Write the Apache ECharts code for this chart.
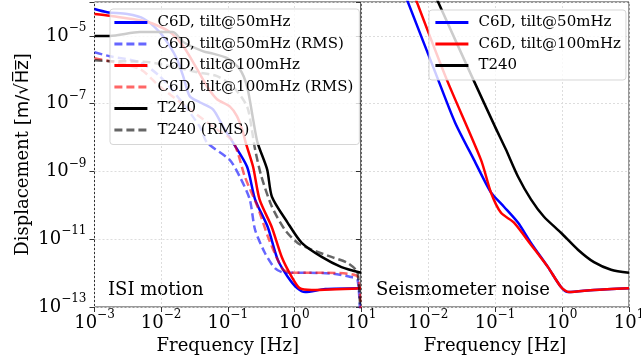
<!DOCTYPE html>
<html><head><meta charset="utf-8">
<script src="https://cdn.jsdelivr.net/npm/echarts@6/dist/echarts.min.js"></script>
<style>html,body{margin:0;padding:0;background:#fff}#c{width:641px;height:362px}</style>
</head><body><div id="c"></div>
<script>
// ---------- Left panel: ISI motion ----------
const c6d50Freq = [0.001, 0.00155, 0.0031, 0.0055, 0.0095, 0.0135, 0.0174, 0.0214, 0.0269, 0.038, 0.060, 0.085, 0.120, 0.195, 0.257, 0.398, 0.562, 0.794, 1.10, 1.45, 2.9, 10];
const c6d50Asd  = [6.2e-5, 5.0e-5, 4.4e-5, 3.2e-5, 1.3e-5, 5.0e-6, 2.0e-6, 6.5e-7, 1.66e-7, 1.1e-7, 6.8e-8, 2.1e-8, 7.1e-9, 1.38e-9, 1.5e-10, 2.3e-11, 2.5e-12, 7.8e-13, 3.6e-13, 2.75e-13, 3.4e-13, 3.6e-13];

const c6d50RmsFreq = [0.001, 0.0017, 0.0048, 0.0095, 0.019, 0.038, 0.049, 0.107, 0.151, 0.214, 0.257, 0.36, 0.51, 0.72, 1.58, 3.8, 6.8, 8.9, 10];
const c6d50Rms     = [3.3e-6, 2.5e-6, 1.66e-6, 6.5e-7, 1.35e-7, 2.1e-8, 7.1e-9, 2.2e-9, 7.1e-10, 1.5e-10, 1.9e-11, 4.0e-12, 1.4e-12, 1.02e-12, 1.02e-12, 9.6e-13, 7.8e-13, 6.3e-13, 1e-14];

const c6d100Freq = [0.001, 0.0017, 0.0062, 0.0135, 0.0214, 0.0347, 0.049, 0.069, 0.107, 0.138, 0.170, 0.186, 0.24, 0.30, 0.457, 0.646, 0.912, 1.20, 1.82, 10];
const c6d100Asd  = [4.4e-5, 3.9e-5, 2.6e-5, 1.3e-5, 5.0e-6, 1.05e-6, 3.2e-7, 1.35e-7, 8.3e-8, 4.2e-8, 1.4e-8, 7.1e-9, 1.38e-9, 1.5e-10, 2.3e-11, 3.0e-12, 7.8e-13, 3.6e-13, 3.2e-13, 3.6e-13];

const c6d100RmsFreq = [0.001, 0.0048, 0.0095, 0.027, 0.069, 0.115, 0.141, 0.18, 0.28, 0.40, 0.56, 0.68, 0.91, 2.9, 8.9, 10];
const c6d100Rms     = [2.2e-6, 1.05e-6, 3.2e-7, 6.8e-8, 1.74e-8, 8.7e-9, 3.6e-9, 7.1e-10, 9.1e-11, 1.2e-11, 2.5e-12, 1.26e-12, 1.02e-12, 1.02e-12, 7.8e-13, 1e-14];

const t240Freq = [0.001, 0.0017, 0.0048, 0.015, 0.0214, 0.043, 0.060, 0.098, 0.151, 0.195, 0.24, 0.28, 0.39, 0.46, 0.79, 1.29, 2.57, 5.1, 10];
const t240Asd  = [1.0e-5, 1.0e-5, 1.3e-5, 1.3e-5, 6.6e-6, 3.5e-6, 3.0e-6, 2.2e-6, 1.05e-6, 3.2e-7, 3.5e-8, 7.1e-9, 1.15e-9, 1.8e-10, 3.1e-11, 7.8e-12, 3.0e-12, 1.5e-12, 1.02e-12];

const t240RmsFreq = [0.001, 0.0017, 0.0068, 0.0347, 0.069, 0.12, 0.195, 0.23, 0.257, 0.32, 0.46, 0.72, 1.12, 1.82, 3.6, 6.3, 8.9, 10];
const t240Rms     = [1.9e-6, 1.8e-6, 1.66e-6, 8.5e-7, 6.5e-7, 3.2e-7, 8.3e-8, 1.7e-8, 4.5e-9, 7.1e-10, 9.1e-11, 1.9e-11, 7.8e-12, 4.9e-12, 3.0e-12, 2.0e-12, 1.02e-12, 1e-14];

// ---------- Right panel: seismometer noise ----------
const noise50Freq = [0.00481, 0.0141, 0.0253, 0.0486, 0.087, 0.136, 0.220, 0.344, 0.618, 0.966, 1.23, 3.0, 10];
const noise50Asd  = [1.23e-4, 5.2e-7, 2.8e-8, 2.2e-9, 2.4e-10, 9.1e-11, 3.1e-11, 7.8e-12, 1.5e-12, 3.9e-13, 2.75e-13, 3.2e-13, 3.6e-13];

const noise100Freq = [0.00655, 0.019, 0.0618, 0.087, 0.123, 0.192, 0.344, 0.618, 0.966, 1.27, 3.0, 10];
const noise100Asd  = [1.23e-4, 5.2e-7, 2.2e-9, 2.4e-10, 6.0e-11, 3.1e-11, 6.9e-12, 1.5e-12, 3.9e-13, 2.75e-13, 3.2e-13, 3.6e-13];

const noiseT240Freq = [0.0135, 0.0449, 0.1, 0.145, 0.22, 0.344, 0.538, 0.966, 1.73, 3.0, 5.4, 10];
const noiseT240Asd  = [1.23e-4, 6.5e-7, 2.1e-8, 4.5e-9, 7.1e-10, 1.5e-10, 4.6e-11, 1.55e-11, 4.9e-12, 2.1e-12, 1.26e-12, 1.02e-12];

const names = ['C6D, tilt@50mHz', 'C6D, tilt@50mHz (RMS)', 'C6D, tilt@100mHz', 'C6D, tilt@100mHz (RMS)', 'T240', 'T240 (RMS)'];
const panelTitles = ['ISI motion', 'Seismometer noise'];
const xTitle = 'Frequency [Hz]';

// ---------- chart ----------
const SERIF = 'DejaVu Serif';
const pairs = (f, v) => f.map((x, i) => [x, v[i]]);
function line(name, f, v, color, dashed, idx) {
  return {
    type: 'line', name, xAxisIndex: idx, yAxisIndex: idx, data: pairs(f, v),
    showSymbol: false, symbol: 'none', smooth: 0.25, clip: true,
    lineStyle: { color, width: 2.5, type: dashed ? [8, 4] : 'solid', cap: 'butt' },
    itemStyle: { color }, emphasis: { disabled: true }, animation: false
  };
}
const BLUE = '#0000ff', RED = '#ff0000', BLACK = '#000000';
const BLUE_A = 'rgba(0,0,255,0.6)', RED_A = 'rgba(255,0,0,0.6)', BLACK_A = 'rgba(0,0,0,0.6)';

function expStr(v) { const e = Math.round(Math.log10(v)); return e < 0 ? '\u2212' + (-e) : String(e); }
const tickRich = {
  b: { fontSize: 18, lineHeight: 28, fontFamily: SERIF, color: '#000' },
  s: { fontSize: 12, lineHeight: 12, verticalAlign: 'top', fontFamily: SERIF, color: '#000' }
};
const xFmt = v => '{b|10}{s|' + expStr(v) + '}';
const yFmt = v => { const e = Math.round(Math.log10(v)); return (Math.abs(e) % 2 === 1) ? '{b|10}{s|' + expStr(v) + '}' : ''; };

const splitLine = { show: true, lineStyle: { color: '#dddddd', width: 1, type: [2, 2] } };
const tick = { show: true, length: 5, lineStyle: { color: '#333', width: 1 } };

function xAxis(idx, hideMin) {
  return {
    type: 'log', logBase: 10, gridIndex: idx, min: 1e-3, max: 10,
    axisLine: { show: false }, axisTick: tick, splitLine,
    axisLabel: { formatter: xFmt, rich: tickRich, margin: 2, showMinLabel: !hideMin, hideOverlap: false },
    name: xTitle, nameLocation: 'middle', nameGap: 27,
    nameTextStyle: { fontFamily: SERIF, fontSize: 18, color: '#000' }
  };
}
function yAxis(idx) {
  const a = {
    type: 'log', logBase: 10, gridIndex: idx, min: 1e-13, max: 1e-4, interval: 2,
    axisLine: { show: false }, axisTick: tick, splitLine,
    axisLabel: { show: idx === 0, formatter: yFmt, rich: tickRich, margin: 8 }
  };
  if (idx === 0) {
    a.name = '{a|Displacement [}{m|m/\u221AH\u0305z\u0305}{a|]}';
    a.nameLocation = 'middle';
    a.nameGap = 62;
    a.nameTextStyle = { fontSize: 18, fontFamily: SERIF, color: '#000',
      rich: { a: { fontSize: 18, fontFamily: SERIF, color: '#000' }, m: { fontSize: 18, fontFamily: 'DejaVu Sans', color: '#000' } } };
  }
  return a;
}
const legendBase = {
  orient: 'vertical', itemWidth: 33, itemHeight: 14, itemGap: 6.5,
  backgroundColor: 'rgba(255,255,255,0.8)', borderColor: 'rgba(204,204,204,0.8)', borderWidth: 1, borderRadius: 3,
  itemStyle: { opacity: 0, borderWidth: 0 },
  lineStyle: { width: 2.8 },
  textStyle: { fontFamily: SERIF, fontSize: 15, color: '#000', lineHeight: 15, padding: [0, 0, 0, 5] },
  selectedMode: false
};

const chart = echarts.init(document.getElementById('c'), null, { renderer: 'canvas' });
chart.setOption({
  animation: false,
  backgroundColor: '#fff',
  grid: [
    { left: 94.5, top: 2, width: 266.5, height: 305, show: true, borderColor: '#333', borderWidth: 1, backgroundColor: 'transparent', outerBoundsMode: 'none' },
    { left: 361, top: 2, width: 268, height: 305, show: true, borderColor: '#333', borderWidth: 1, backgroundColor: 'transparent', outerBoundsMode: 'none' }
  ],
  xAxis: [xAxis(0, false), xAxis(1, true)],
  yAxis: [yAxis(0), yAxis(1)],
  legend: [
    Object.assign({}, legendBase, { left: 110, top: 9, padding: [6, 6, 7, 3], data: names }),
    Object.assign({}, legendBase, { left: 429, top: 10, padding: [5, 5, 7, 5], data: [names[0], names[2], names[4]] })
  ],
  graphic: [
    { type: 'text', left: 108, top: 281, style: { text: panelTitles[0], fontFamily: SERIF, fontSize: 18, fill: '#000' } },
    { type: 'text', left: 376, top: 281, style: { text: panelTitles[1], fontFamily: SERIF, fontSize: 18, fill: '#000' } }
  ],
  series: [
    line(names[0], c6d50Freq, c6d50Asd, BLUE, false, 0),
    line(names[1], c6d50RmsFreq, c6d50Rms, BLUE_A, true, 0),
    line(names[2], c6d100Freq, c6d100Asd, RED, false, 0),
    line(names[3], c6d100RmsFreq, c6d100Rms, RED_A, true, 0),
    line(names[4], t240Freq, t240Asd, BLACK, false, 0),
    line(names[5], t240RmsFreq, t240Rms, BLACK_A, true, 0),
    line(names[0], noise50Freq, noise50Asd, BLUE, false, 1),
    line(names[2], noise100Freq, noise100Asd, RED, false, 1),
    line(names[4], noiseT240Freq, noiseT240Asd, BLACK, false, 1)
  ]
});
</script></body></html>
